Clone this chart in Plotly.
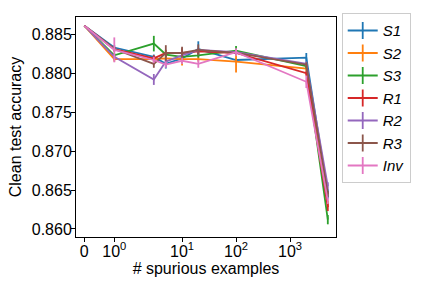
import numpy as np
import plotly.graph_objects as go

# ---- data ----
num_spurious = [0, 1, 3, 5, 10, 20, 100, 2000, 5000]
series_names = ["S1", "S2", "S3", "R1", "R2", "R3", "Inv"]
acc_S1 = [0.8861, 0.8833, 0.8821, 0.8812, 0.8819, 0.8831, 0.8817, 0.8820, 0.8645]
acc_S2 = [0.8861, 0.8818, 0.8818, 0.8819, 0.8818, 0.8818, 0.8815, 0.8806, 0.8632]
acc_S3 = [0.8861, 0.8823, 0.8838, 0.8824, 0.8821, 0.8823, 0.8829, 0.8809, 0.8612]
acc_R1 = [0.8861, 0.8831, 0.8819, 0.8826, 0.8826, 0.8828, 0.8826, 0.8800, 0.8628]
acc_R2 = [0.8861, 0.8821, 0.8792, 0.8815, 0.8823, 0.8830, 0.8827, 0.8812, 0.8655]
acc_R3 = [0.8861, 0.8831, 0.8812, 0.8826, 0.8826, 0.8830, 0.8826, 0.8811, 0.8645]
acc_Inv = [0.8861, 0.8830, 0.8817, 0.8811, 0.8816, 0.8812, 0.8827, 0.8789, 0.8636]
err_S1 = [0, 0.0003, 0.0003, 0.0006, 0.0006, 0.0010, 0.0003, 0.0006, 0.0006]
err_S2 = [0, 0.0003, 0.0003, 0.0003, 0.0008, 0.0003, 0.0014, 0.0003, 0.0004]
err_S3 = [0, 0.0003, 0.0010, 0.0003, 0.0003, 0.0003, 0.0006, 0.0003, 0.0006]
err_R1 = [0, 0.0003, 0.0004, 0.0004, 0.0006, 0.0003, 0.0003, 0.0003, 0.0005]
err_R2 = [0, 0.0003, 0.0007, 0.0003, 0.0003, 0.0003, 0.0003, 0.0003, 0.0005]
err_R3 = [0, 0.0003, 0.0005, 0.0010, 0.0008, 0.0007, 0.0003, 0.0003, 0.0004]
err_Inv = [0, 0.0016, 0.0004, 0.0004, 0.0004, 0.0005, 0.0005, 0.0008, 0.0004]
x_tick_values = [0, 1, 10, 100, 1000]
x_tick_labels = ["0", "10<sup>0</sup>", "10<sup>1</sup>", "10<sup>2</sup>", "10<sup>3</sup>"]
y_tick_values = [0.860, 0.865, 0.870, 0.875, 0.880, 0.885]

accs = [acc_S1, acc_S2, acc_S3, acc_R1, acc_R2, acc_R3, acc_Inv]
errs = [err_S1, err_S2, err_S3, err_R1, err_R2, err_R3, err_Inv]
colors = ["#1f77b4", "#ff7f0e", "#2ca02c", "#d62728", "#9467bd", "#8c564b", "#e377c2"]

# symlog scale (linthresh=2, linscale=1), as in the original axis
LINTHRESH = 2.0
LINSCALE_ADJ = 1.0 / (1.0 - 1.0 / 10.0)


def symlog(v):
    v = np.asarray(v, dtype=float)
    out = np.where(np.abs(v) <= LINTHRESH,
                   v / LINTHRESH * LINSCALE_ADJ,
                   np.sign(v) * (LINSCALE_ADJ + np.log10(np.maximum(np.abs(v), 1e-12) / LINTHRESH)))
    return out


xs = symlog(num_spurious)
FONT = "Liberation Sans, Arial, sans-serif"

fig = go.Figure()
for name, a, e, c in zip(series_names, accs, errs, colors):
    fig.add_trace(go.Scatter(
        x=xs, y=a, mode="lines", name=name, showlegend=False,
        line=dict(color=c, width=1.8),
        error_y=dict(type="data", array=e, visible=True, color=c, thickness=1.8, width=0),
    ))
# legend entries (line with vertical errorbar tick)
for name, c in zip(series_names, colors):
    fig.add_trace(go.Scatter(
        x=[None], y=[None], mode="lines+markers", name=f"<i>{name}</i>",
        line=dict(color=c, width=1.8),
        marker=dict(symbol="line-ns", size=12, color=c, line=dict(width=1.8, color=c)),
    ))

fig.update_layout(
    width=432, height=288,
    margin=dict(l=76, r=96, t=17, b=51, autoexpand=False),
    paper_bgcolor="white", plot_bgcolor="white",
    font=dict(family=FONT, size=16, color="black"),
    legend=dict(
        x=1.022, y=1.017, xanchor="left", yanchor="top",
        bordercolor="#cccccc", borderwidth=1, bgcolor="white",
        font=dict(family=FONT, size=15), tracegroupgap=0,
        maxheight=1, itemwidth=30,
    ),
)
fig.update_xaxes(
    range=[-0.154, 4.661],
    tickvals=list(symlog(x_tick_values)), ticktext=x_tick_labels,
    ticks="outside", ticklen=4, tickcolor="black",
    showline=True, linecolor="black", linewidth=1, mirror=True,
    showgrid=False, zeroline=False,
    title=dict(text="# spurious examples", font=dict(size=16), standoff=2),
    tickfont=dict(size=16), ticklabelstandoff=-4,
)
fig.update_yaxes(
    range=[0.85897, 0.88722],
    tickvals=y_tick_values, tickformat=".3f",
    ticks="outside", ticklen=4, tickcolor="black",
    showline=True, linecolor="black", linewidth=1, mirror=True,
    showgrid=False, zeroline=False,
    title=dict(text="Clean test accuracy", font=dict(size=16), standoff=6),
    tickfont=dict(size=16), ticklabelstandoff=-4,
)

fig.write_html("out.html",
               config={"displayModeBar": False},
               post_script="document.body.style.margin='0';document.body.style.padding='0';")
